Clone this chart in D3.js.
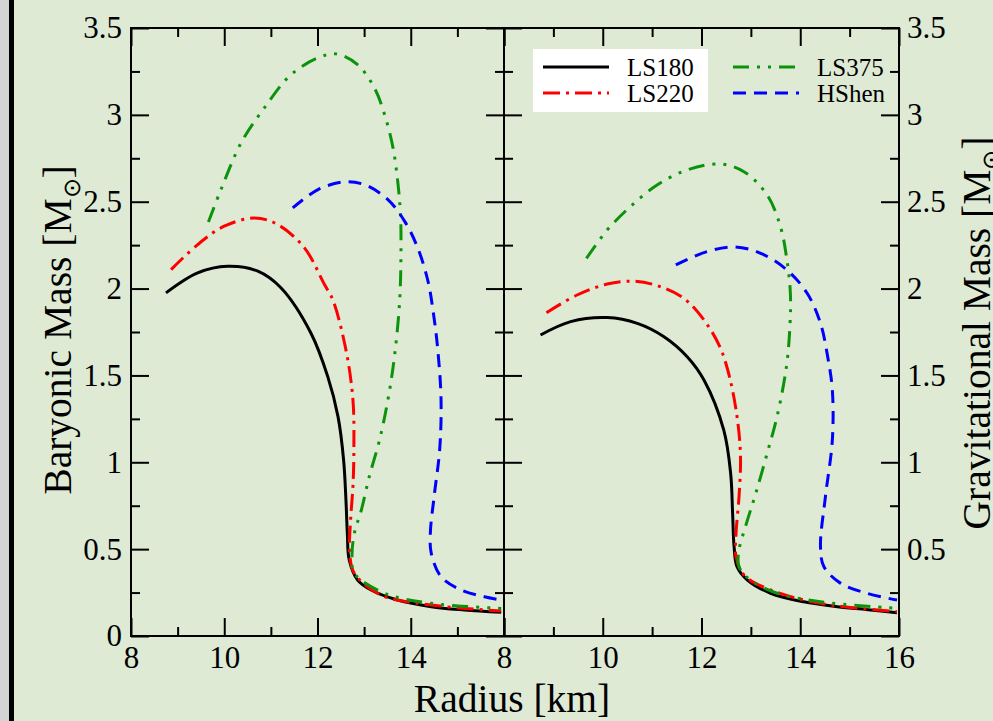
<!DOCTYPE html>
<html>
<head>
<meta charset="utf-8">
<script src="https://cdn.jsdelivr.net/npm/d3@7"></script>
<style>
  html, body { margin: 0; padding: 0; background: #dfead5; }
  svg { display: block; }
  text { font-family: "Liberation Serif", "Times New Roman", serif; fill: #000; }
</style>
</head>
<body>
<svg id="chart" width="993" height="721"></svg>
<script>
// ---- Data: mass–radius relations (radius in km, mass in solar masses) ----
const xTicksMajor = [8, 10, 12, 14, 16];
const xTicksMinor = [9, 11, 13, 15];
const yTicksMajor = [0, 0.5, 1, 1.5, 2, 2.5, 3, 3.5];
const yTicksMinor = [0.25, 0.75, 1.25, 1.75, 2.25, 2.75, 3.25];
const leftXLabels = [8, 10, 12, 14];
const rightXLabels = [8, 10, 12, 14, 16];
const leftYLabels = [0, 0.5, 1, 1.5, 2, 2.5, 3, 3.5];
const rightYLabels = [0.5, 1, 1.5, 2, 2.5, 3, 3.5];

const seriesNames = ["LS180", "LS220", "LS375", "HShen"];

// Baryonic mass panel
const ls180BaryR = [8.75, 9.43, 10.07, 10.72, 11.22, 11.86, 12.22, 12.44, 12.56, 12.61, 12.64, 12.68, 12.86, 13.15, 13.72, 14.44, 15.15, 15.94];
const ls180BaryM = [1.975, 2.09, 2.128, 2.10, 2.003, 1.743, 1.493, 1.263, 1.013, 0.783, 0.591, 0.4375, 0.322, 0.265, 0.207, 0.169, 0.150, 0.136];

const ls220BaryR = [8.86, 9.43, 10.0, 10.65, 11.15, 11.72, 12.15, 12.33, 12.61, 12.76, 12.78, 12.76, 12.71, 12.69, 12.79, 13.36, 14.44, 15.94];
const ls220BaryM = [2.109, 2.253, 2.359, 2.406, 2.368, 2.234, 2.023, 1.934, 1.647, 1.359, 1.071, 0.860, 0.668, 0.476, 0.361, 0.236, 0.178, 0.144];

const ls375BaryR = [9.66, 9.93, 10.36, 10.86, 11.43, 12.01, 12.40, 12.86, 13.22, 13.44, 13.62, 13.72, 13.78, 13.79, 13.76, 13.65, 13.51, 13.33, 13.11, 12.94, 12.79, 12.74, 12.79, 13.44, 14.44, 15.94];
const ls375BaryM = [2.383, 2.570, 2.838, 3.040, 3.231, 3.328, 3.351, 3.289, 3.155, 3.001, 2.810, 2.618, 2.426, 2.195, 1.920, 1.608, 1.359, 1.128, 0.917, 0.725, 0.591, 0.4565, 0.361, 0.246, 0.188, 0.159];

const hshenBaryR = [11.47, 12.01, 12.58, 13.01, 13.51, 13.87, 14.15, 14.37, 14.49, 14.58, 14.65, 14.62, 14.51, 14.42, 14.44, 14.65, 15.08, 15.58, 15.94];
const hshenBaryM = [2.464, 2.570, 2.614, 2.598, 2.512, 2.387, 2.234, 2.042, 1.85, 1.647, 1.359, 1.071, 0.822, 0.591, 0.476, 0.341, 0.265, 0.226, 0.207];

// Gravitational mass panel
const ls180GravR = [8.74, 9.35, 10.09, 10.70, 11.24, 11.71, 12.05, 12.45, 12.59, 12.63, 12.66, 12.72, 12.93, 13.40, 14.07, 14.75, 15.42, 15.96];
const ls180GravM = [1.733, 1.810, 1.833, 1.800, 1.723, 1.608, 1.474, 1.186, 0.937, 0.706, 0.514, 0.399, 0.322, 0.246, 0.197, 0.169, 0.150, 0.134];

const ls220GravR = [8.86, 9.48, 10.09, 10.63, 11.10, 11.64, 12.05, 12.37, 12.56, 12.72, 12.79, 12.76, 12.70, 12.70, 12.86, 13.40, 14.41, 15.96];
const ls220GravM = [1.861, 1.963, 2.026, 2.042, 2.017, 1.944, 1.819, 1.666, 1.50, 1.263, 1.032, 0.802, 0.591, 0.4565, 0.351, 0.265, 0.188, 0.140];

const ls375GravR = [9.67, 10.09, 10.56, 11.10, 11.71, 12.39, 12.86, 13.33, 13.60, 13.73, 13.80, 13.79, 13.72, 13.53, 13.33, 13.10, 12.89, 12.76, 12.76, 12.99, 13.53, 14.41, 15.96];
const ls375GravM = [2.174, 2.337, 2.472, 2.596, 2.683, 2.717, 2.673, 2.539, 2.356, 2.165, 1.973, 1.781, 1.55, 1.263, 1.052, 0.822, 0.629, 0.495, 0.399, 0.322, 0.246, 0.197, 0.159];

const hshenGravR = [11.48, 12.05, 12.66, 13.20, 13.73, 14.14, 14.41, 14.56, 14.65, 14.65, 14.51, 14.41, 14.48, 14.82, 15.35, 15.96];
const hshenGravM = [2.136, 2.207, 2.240, 2.203, 2.107, 1.973, 1.800, 1.60, 1.416, 1.128, 0.802, 0.514, 0.399, 0.303, 0.246, 0.207];

// ---- Styles ----
const styles = {
  LS180: { color: "#000000", dash: null },
  LS220: { color: "#ff0000", dash: "17,6,3,6" },
  LS375: { color: "#0b930b", dash: "16,8,3,8,3,8" },
  HShen: { color: "#0000ff", dash: "13,8" }
};

const svg = d3.select("#chart");
const W = 993, H = 721;

// background and left frame strip
svg.append("rect").attr("width", W).attr("height", H).attr("fill", "#dfead5");
svg.append("rect").attr("x", 0).attr("y", 0).attr("width", 9).attr("height", H).attr("fill", "#d4d4d4");
svg.append("rect").attr("x", 9).attr("y", 0).attr("width", 5).attr("height", H).attr("fill", "#000");

// ---- Scales ----
const y = d3.scaleLinear().domain([0, 3.5]).range([636, 28]);
const xL = d3.scaleLinear().domain([8, 16]).range([131, 504]);
const xR = d3.scaleLinear().domain([8, 16]).range([504, 899]);

const panels = [
  { id: "bary", x: xL, data: [[ls180BaryR, ls180BaryM], [ls220BaryR, ls220BaryM], [ls375BaryR, ls375BaryM], [hshenBaryR, hshenBaryM]] },
  { id: "grav", x: xR, data: [[ls180GravR, ls180GravM], [ls220GravR, ls220GravM], [ls375GravR, ls375GravM], [hshenGravR, hshenGravM]] }
];

const defs = svg.append("defs");
panels.forEach(p => {
  const [x0, x1] = p.x.range();
  defs.append("clipPath").attr("id", "clip-" + p.id)
    .append("rect").attr("x", x0).attr("y", y(3.5)).attr("width", x1 - x0).attr("height", y(0) - y(3.5));
});

// ---- Curves ----
panels.forEach(p => {
  const line = d3.line()
    .x(d => p.x(d[0]))
    .y(d => y(d[1]))
    .curve(d3.curveCatmullRom.alpha(0.5));
  const g = svg.append("g").attr("clip-path", `url(#clip-${p.id})`);
  p.data.forEach((pair, i) => {
    const st = styles[seriesNames[i]];
    const pts = pair[0].map((r, k) => [r, pair[1][k]]);
    g.append("path")
      .attr("d", line(pts))
      .attr("fill", "none")
      .attr("stroke", st.color)
      .attr("stroke-width", 3)
      .attr("stroke-linejoin", "round")
      .attr("stroke-dasharray", st.dash);
  });
});

// ---- Axes ----
const tickFont = 31;
function styleAxis(sel) {
  sel.select(".domain").remove();
  sel.attr("font-family", null).attr("font-size", null);
  sel.selectAll(".tick line").attr("stroke", "#000").attr("stroke-width", 2);
  sel.selectAll(".tick text").attr("font-size", tickFont);
}
function fmt(d) { return String(d); }

panels.forEach((p, idx) => {
  const [x0, x1] = p.x.range();
  const xLabels = idx === 0 ? leftXLabels : rightXLabels;

  // bottom: major with labels (only for labelled values), minor
  svg.append("g").attr("transform", `translate(0,${y(0)})`)
    .call(d3.axisBottom(p.x).tickValues(xTicksMajor).tickSize(-18).tickPadding(10)
      .tickFormat(d => xLabels.includes(d) ? fmt(d) : ""))
    .call(styleAxis);
  svg.append("g").attr("transform", `translate(0,${y(0)})`)
    .call(d3.axisBottom(p.x).tickValues(xTicksMinor).tickSize(-9).tickFormat(""))
    .call(styleAxis);
  // top
  svg.append("g").attr("transform", `translate(0,${y(3.5)})`)
    .call(d3.axisTop(p.x).tickValues(xTicksMajor).tickSize(-18).tickFormat(""))
    .call(styleAxis);
  svg.append("g").attr("transform", `translate(0,${y(3.5)})`)
    .call(d3.axisTop(p.x).tickValues(xTicksMinor).tickSize(-9).tickFormat(""))
    .call(styleAxis);

  // left side of panel
  svg.append("g").attr("transform", `translate(${x0},0)`)
    .call(d3.axisLeft(y).tickValues(yTicksMajor).tickSize(-18).tickPadding(9)
      .tickFormat(d => idx === 0 && leftYLabels.includes(d) ? fmt(d) : ""))
    .call(styleAxis);
  svg.append("g").attr("transform", `translate(${x0},0)`)
    .call(d3.axisLeft(y).tickValues(yTicksMinor).tickSize(-9).tickFormat(""))
    .call(styleAxis);
  // right side of panel
  svg.append("g").attr("transform", `translate(${x1},0)`)
    .call(d3.axisRight(y).tickValues(yTicksMajor).tickSize(-18).tickPadding(8)
      .tickFormat(d => idx === 1 && rightYLabels.includes(d) ? fmt(d) : ""))
    .call(styleAxis);
  svg.append("g").attr("transform", `translate(${x1},0)`)
    .call(d3.axisRight(y).tickValues(yTicksMinor).tickSize(-9).tickFormat(""))
    .call(styleAxis);

  // frame
  svg.append("rect")
    .attr("x", x0).attr("y", y(3.5)).attr("width", x1 - x0).attr("height", y(0) - y(3.5))
    .attr("fill", "none").attr("stroke", "#000").attr("stroke-width", 2);
});

// ---- Axis titles ----
const titleFont = 39.5;
function massTitle(g, prefix) {
  const t = g.append("text").attr("font-size", titleFont).attr("text-anchor", "middle");
  t.append("tspan").text(prefix + " Mass [M");
  t.append("tspan").text("\u2299").attr("font-size", titleFont * 0.62).attr("dy", 9);
  t.append("tspan").text("]").attr("dy", -9);
  return t;
}
massTitle(svg.append("g").attr("transform", "translate(71,330) rotate(-90)"), "Baryonic");
massTitle(svg.append("g").attr("transform", "translate(990,333) rotate(-90)"), "Gravitational");

svg.append("text")
  .attr("x", 512).attr("y", 712)
  .attr("font-size", titleFont).attr("text-anchor", "middle")
  .text("Radius [km]");

// ---- Legend ----
svg.append("rect").attr("x", 533).attr("y", 49).attr("width", 175).attr("height", 63).attr("fill", "#fff");
const legendItems = [
  { name: "LS180", x: 543, y: 67 },
  { name: "LS220", x: 543, y: 93 },
  { name: "LS375", x: 733, y: 67 },
  { name: "HShen", x: 733, y: 93 }
];
legendItems.forEach(it => {
  const st = styles[it.name];
  svg.append("line")
    .attr("x1", it.x).attr("x2", it.x + 66).attr("y1", it.y).attr("y2", it.y)
    .attr("stroke", st.color).attr("stroke-width", 3)
    .attr("stroke-dasharray", st.dash);
  svg.append("text")
    .attr("x", it.x + 84).attr("y", it.y + 9)
    .attr("font-size", 25)
    .text(it.name);
});
</script>
</body>
</html>
